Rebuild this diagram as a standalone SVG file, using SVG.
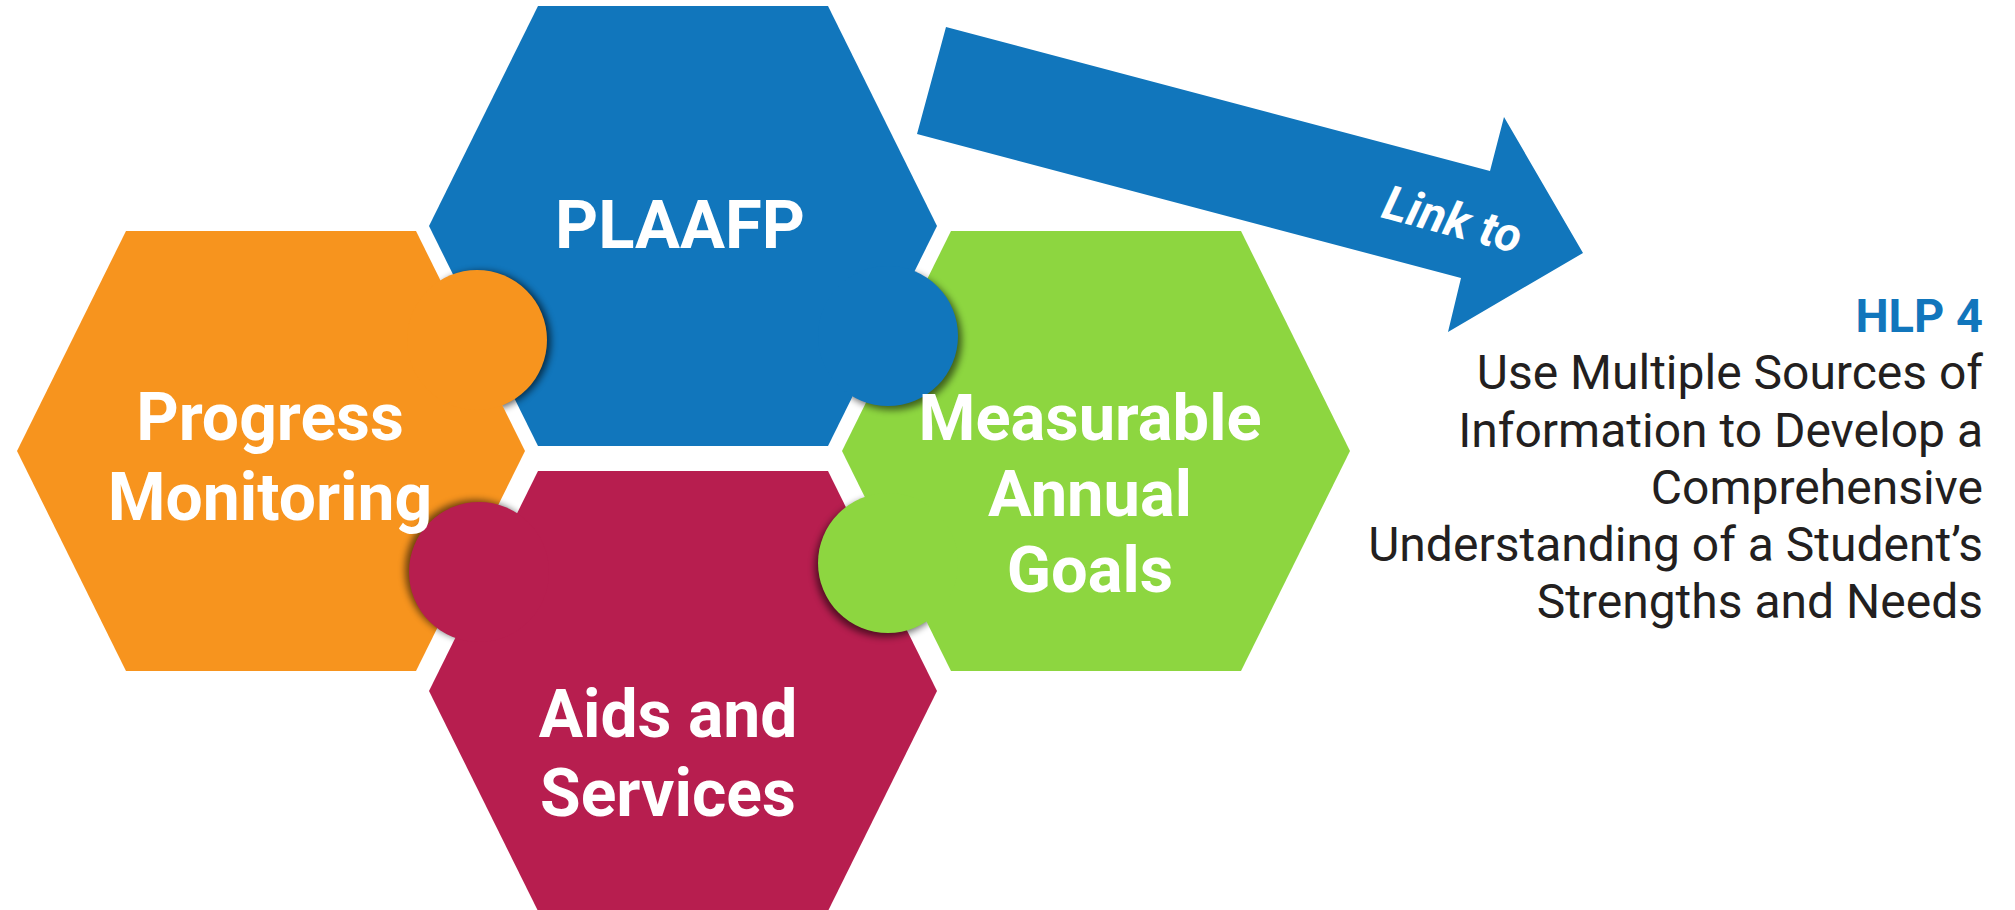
<svg xmlns="http://www.w3.org/2000/svg" width="2015" height="910" viewBox="0 0 2015 910">
  <style>
    .lbl { font-family: Roboto, "Liberation Sans", sans-serif; font-weight: 700; fill: #ffffff; text-anchor: middle; }
    .body { font-family: Roboto, "Liberation Sans", sans-serif; font-weight: 400; fill: #231f20; text-anchor: end; font-size: 48px; }
    .orange { fill: #F7941E; }
    .blue { fill: #1176BC; }
    .red { fill: #B71E4F; }
    .green { fill: #8DD640; }
    .shadow { fill: #000000; }
  </style>
  <defs>
    <filter id="blur" x="-30%" y="-30%" width="160%" height="160%">
      <feGaussianBlur stdDeviation="3.5"/>
    </filter>
    <mask id="mOrange" maskUnits="userSpaceOnUse" x="0" y="0" width="2015" height="910">
      <rect width="2015" height="910" fill="#fff"/>
      <polygon points="126,231 416,231 525,451 416,671 126,671 17,451" fill="#000"/>
    </mask>
    <mask id="mBlue" maskUnits="userSpaceOnUse" x="0" y="0" width="2015" height="910">
      <rect width="2015" height="910" fill="#fff"/>
      <polygon points="538,6 828,6 937,226 828,446 538,446 429,226" fill="#000"/>
    </mask>
    <mask id="mRed" maskUnits="userSpaceOnUse" x="0" y="0" width="2015" height="910">
      <rect width="2015" height="910" fill="#fff"/>
      <polygon points="538,471 828,471 937,691 828,911 538,911 429,691" fill="#000"/>
    </mask>
    <mask id="mGreen" maskUnits="userSpaceOnUse" x="0" y="0" width="2015" height="910">
      <rect width="2015" height="910" fill="#fff"/>
      <polygon points="951,231 1241,231 1350,451 1241,671 951,671 842,451" fill="#000"/>
    </mask>
  </defs>

  <rect width="2015" height="910" fill="#ffffff"/>

  <g id="connectors">
    <path id="link-arrow" class="blue" d="M946,27 L1490,171 L1504,117 L1583,253 L1448,332 L1461,278 L917,134 Z"/>
    <text transform="translate(1380,217) rotate(15)" font-family="Roboto, 'Liberation Sans', sans-serif" font-weight="700" font-style="italic" font-size="48" fill="#ffffff">Link to</text>
  </g>

  <g id="node-progress">
    <polygon class="orange" points="126,231 416,231 525,451 416,671 126,671 17,451"/>
  </g>
  <g id="node-plaafp">
    <polygon class="blue" points="538,6 828,6 937,226 828,446 538,446 429,226"/>
  </g>
  <g id="node-aids">
    <polygon class="red" points="538,471 828,471 937,691 828,911 538,911 429,691"/>
  </g>
  <g id="node-goals">
    <polygon class="green" points="951,231 1241,231 1350,451 1241,671 951,671 842,451"/>
  </g>

  <g id="tab-shadows">
    <g mask="url(#mOrange)"><circle class="shadow" cx="481" cy="341" r="70" opacity="0.6" filter="url(#blur)"/></g>
    <g mask="url(#mBlue)"><circle class="shadow" cx="892" cy="340" r="70" opacity="0.55" filter="url(#blur)"/></g>
    <g mask="url(#mRed)"><circle class="shadow" cx="475" cy="570" r="70" opacity="0.55" filter="url(#blur)"/></g>
    <g mask="url(#mGreen)"><circle class="shadow" cx="885" cy="567" r="70" opacity="0.55" filter="url(#blur)"/></g>
  </g>

  <g id="tabs">
    <circle class="orange" cx="477" cy="340" r="70"/>
    <circle class="blue" cx="888" cy="336" r="70"/>
    <circle class="red" cx="479" cy="572" r="70"/>
    <circle class="green" cx="888" cy="563" r="70"/>
  </g>

  <g id="labels">
    <text class="lbl" x="680" y="248" font-size="67">PLAAFP</text>
    <text class="lbl" x="270" y="440" font-size="66">Progress</text>
    <text class="lbl" x="270" y="520" font-size="66">Monitoring</text>
    <text class="lbl" x="1090" y="440" font-size="65">Measurable</text>
    <text class="lbl" x="1090" y="516" font-size="65">Annual</text>
    <text class="lbl" x="1090" y="592" font-size="65">Goals</text>
    <text class="lbl" x="668" y="737" font-size="66">Aids and</text>
    <text class="lbl" x="668" y="816" font-size="66">Services</text>
  </g>

  <g id="hlp-text">
    <text x="1983" y="332" font-family="Roboto, 'Liberation Sans', sans-serif" font-weight="700" font-size="47" fill="#1176BC" text-anchor="end">HLP 4</text>
    <text class="body" x="1983" y="389">Use Multiple Sources of</text>
    <text class="body" x="1983" y="447">Information to Develop a</text>
    <text class="body" x="1983" y="504">Comprehensive</text>
    <text class="body" x="1983" y="561">Understanding of a Student’s</text>
    <text class="body" x="1983" y="618">Strengths and Needs</text>
  </g>
</svg>
